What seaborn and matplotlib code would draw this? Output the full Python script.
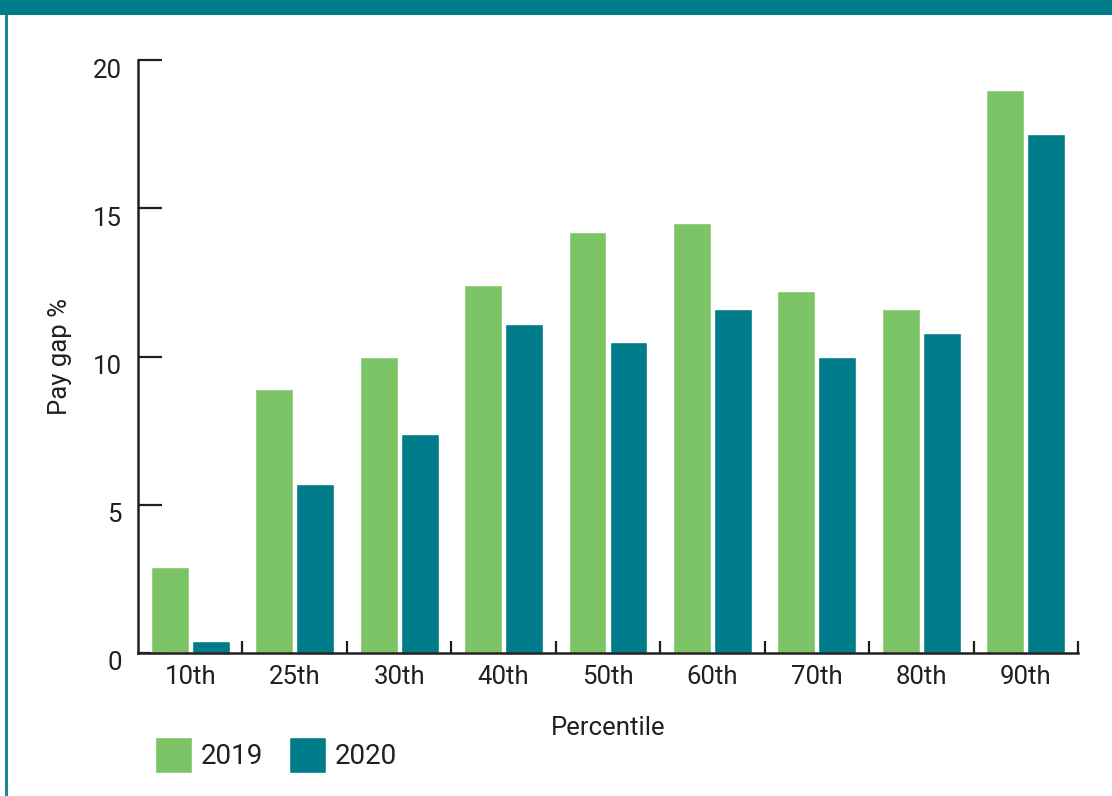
import matplotlib
matplotlib.use("Agg")
import matplotlib.pyplot as plt
import matplotlib.transforms as mtransforms
from matplotlib.patches import Rectangle
import seaborn as sns
import pandas as pd
import numpy as np

percentiles = ["10th", "25th", "30th", "40th", "50th", "60th", "70th", "80th", "90th"]
gap_2019 = [2.9, 8.9, 10.0, 12.4, 14.2, 14.5, 12.2, 11.6, 19.0]
gap_2020 = [0.4, 5.7, 7.4, 11.1, 10.5, 11.6, 10.0, 10.8, 17.5]
years = ["2019", "2020"]
y_ticks = [0, 5, 10, 15, 20]

GREEN = "#7cc466"
TEAL = "#007b8a"
INK = "#231f20"

df = pd.DataFrame({
    "Percentile": percentiles * 2,
    "Pay gap %": gap_2019 + gap_2020,
    "Year": [years[0]] * len(percentiles) + [years[1]] * len(percentiles),
})

sns.set_style("white")
plt.rcParams["font.family"] = ["Roboto", "DejaVu Sans"]
plt.rcParams["text.color"] = INK

fig = plt.figure(figsize=(11.12, 7.96), dpi=100)
ax = fig.add_axes([138 / 1112, 1 - 653 / 796, 940 / 1112, 593 / 796])

sns.barplot(data=df, x="Percentile", y="Pay gap %", hue="Year",
            palette={years[0]: GREEN, years[1]: TEAL},
            width=0.785, gap=0.075, saturation=1, ax=ax, legend=True)

ax.set_xlim(-0.5, len(percentiles) - 0.5)
ax.set_ylim(0, 20)
ax.set_yticks(y_ticks)
ax.set_yticklabels([str(t) for t in y_ticks])

for s in ["top", "right"]:
    ax.spines[s].set_visible(False)
for s in ["left", "bottom"]:
    ax.spines[s].set_color(INK)
    ax.spines[s].set_linewidth(1.8)

ax.tick_params(axis="y", direction="in", length=17, width=1.6, color=INK,
               labelsize=18.5, pad=11.5, labelcolor=INK, left=True)
ax.tick_params(axis="x", which="major", length=0, labelsize=18.5, pad=9, labelcolor=INK)
ax.set_xticks(np.arange(0.5, len(percentiles), 1.0), minor=True)
ax.tick_params(axis="x", which="minor", direction="in", length=8.5, width=1.6,
               color=INK, bottom=True)

offset = mtransforms.ScaledTranslation(0, -8 / 100, fig.dpi_scale_trans)
for lab in ax.get_yticklabels():
    lab.set_transform(lab.get_transform() + offset)

ax.set_xlabel("Percentile", fontsize=18.5, color=INK, labelpad=19)
ax.set_ylabel("Pay gap %", fontsize=18.5, color=INK, labelpad=15)

handles, labels = ax.get_legend_handles_labels()
ax.get_legend().remove()
fig.legend(handles, labels, loc="center left",
           bbox_to_anchor=(155 / 1112, 1 - 755 / 796), ncol=2, frameon=False,
           fontsize=20, handlelength=1.33, handleheight=1.6, handletextpad=0.3,
           columnspacing=0.95, borderpad=0, borderaxespad=0)

# decorative frame: top band and left rule
fig.add_artist(Rectangle((0, 1 - 15 / 796), 1, 15 / 796, transform=fig.transFigure,
                         facecolor=TEAL, edgecolor="none", zorder=0))
fig.add_artist(Rectangle((5 / 1112, 0), 3 / 1112, 1 - 15 / 796, transform=fig.transFigure,
                         facecolor="#1a8a96", edgecolor="none", zorder=0))

fig.savefig("out.png", dpi=100)
